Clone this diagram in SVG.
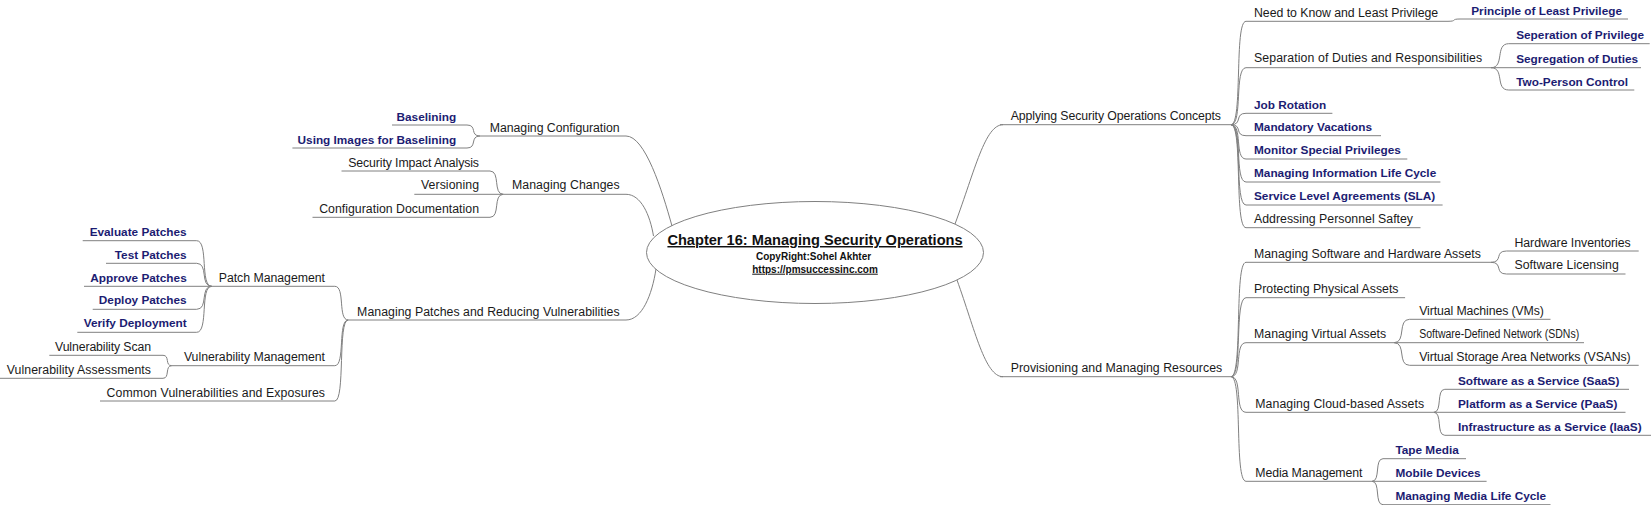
<svg xmlns="http://www.w3.org/2000/svg" width="1651" height="505" viewBox="0 0 1651 505">
<style>
.t{font-family:"Liberation Sans",Arial,sans-serif;font-size:12.3px;fill:#1a1a1a}
.b{font-family:"Liberation Sans",Arial,sans-serif;font-size:11.8px;font-weight:bold;fill:#1c1c72}
.e{text-anchor:end}
.u{stroke:#808080;stroke-width:1;fill:none}
.c{stroke:#808080;stroke-width:1;fill:none}
.ct{font-family:"Liberation Sans",Arial,sans-serif;font-weight:bold;fill:#111;text-anchor:middle}
</style>
<rect width="1651" height="505" fill="#ffffff"/>
<g id="connectors">
<path class="c" d="M626,136 C645,136 662,190 672,226"/>
<path class="c" d="M626,194.3 C641,194.3 650,215 653.5,236"/>
<path class="c" d="M626,320 C642,320 652,295 656,269"/>
<path class="c" d="M955,224 C975,170 985,124.7 1003,124.7"/>
<path class="c" d="M957,280 C975,330 985,376.7 1003,376.7"/>
<path class="c" d="M467,125 C477.4,125 469.6,136 480,136"/>
<path class="c" d="M467,148 C477.4,148 469.6,136 480,136"/>
<path class="c" d="M490,171 C500.6,171 492.7,194.3 503.3,194.3"/>
<path class="c" d="M490,217.3 C500.6,217.3 492.7,194.3 503.3,194.3"/>
<path class="c" d="M334.8,286.3 C345.5,286.3 337.5,320 348.2,320"/>
<path class="c" d="M334.8,365.7 C345.5,365.7 337.5,320 348.2,320"/>
<path class="c" d="M334.8,401 C345.5,401 337.5,320 348.2,320"/>
<path class="c" d="M196.7,240.7 C208.7,240.7 199.7,286.3 211.7,286.3"/>
<path class="c" d="M196.7,263.3 C208.7,263.3 199.7,286.3 211.7,286.3"/>
<path class="c" d="M196.7,309.3 C208.7,309.3 199.7,286.3 211.7,286.3"/>
<path class="c" d="M196.7,332.3 C208.7,332.3 199.7,286.3 211.7,286.3"/>
<path class="c" d="M163,355.3 C170,355.3 164.7,365.7 171.7,365.7"/>
<path class="c" d="M163,378.3 C170,378.3 164.7,365.7 171.7,365.7"/>
<path class="c" d="M1231,124.7 C1243,124.7 1234,21.3 1246,21.3"/>
<path class="c" d="M1231,124.7 C1243,124.7 1234,67.7 1246,67.7"/>
<path class="c" d="M1231,124.7 C1243,124.7 1234,113.3 1246,113.3"/>
<path class="c" d="M1231,124.7 C1243,124.7 1234,135.7 1246,135.7"/>
<path class="c" d="M1231,124.7 C1243,124.7 1234,159 1246,159"/>
<path class="c" d="M1231,124.7 C1243,124.7 1234,182 1246,182"/>
<path class="c" d="M1231,124.7 C1243,124.7 1234,205 1246,205"/>
<path class="c" d="M1231,124.7 C1243,124.7 1234,227.7 1246,227.7"/>
<path class="c" d="M1231,376.7 C1243,376.7 1234,262.3 1246,262.3"/>
<path class="c" d="M1231,376.7 C1243,376.7 1234,297.7 1246,297.7"/>
<path class="c" d="M1231,376.7 C1243,376.7 1234,342.7 1246,342.7"/>
<path class="c" d="M1231,376.7 C1243,376.7 1234,412.3 1246,412.3"/>
<path class="c" d="M1231,376.7 C1243,376.7 1234,481.3 1246,481.3"/>
<path class="c" d="M1448,21.3 C1457.6,21.3 1450.4,19 1460,19"/>
<path class="c" d="M1491,67.7 C1505,67.7 1494.7,43.7 1508.7,43.7"/>
<path class="c" d="M1491,67.7 C1505,67.7 1494.7,90 1508.7,90"/>
<path class="c" d="M1491,262.3 C1503.4,262.3 1494.1,251 1506.5,251"/>
<path class="c" d="M1491,262.3 C1503.4,262.3 1494.1,274 1506.5,274"/>
<path class="c" d="M1394.1,342.7 C1406.4,342.7 1397.2,319.3 1409.5,319.3"/>
<path class="c" d="M1394.1,342.7 C1406.4,342.7 1397.2,365.3 1409.5,365.3"/>
<path class="c" d="M1433.8,412.3 C1442.6,412.3 1436,389.3 1444.8,389.3"/>
<path class="c" d="M1433.8,412.3 C1442.6,412.3 1436,435.3 1444.8,435.3"/>
<path class="c" d="M1372,481.3 C1380.8,481.3 1374.2,458.7 1383,458.7"/>
<path class="c" d="M1372,481.3 C1380.8,481.3 1374.2,504.7 1383,504.7"/>
</g>
<g id="central">
<ellipse cx="815" cy="252.5" rx="168.5" ry="51" fill="#ffffff" stroke="#808080" stroke-width="1"/>
<text class="ct" x="815" y="245" font-size="14.6" text-decoration="underline">Chapter 16: Managing Security Operations</text>
<text class="ct" x="813.5" y="260" font-size="10">CopyRight:Sohel Akhter</text>
<text class="ct" x="815" y="272.7" font-size="10" text-decoration="underline">https://pmsuccessinc.com</text>
</g>
<g id="managing-configuration"><line class="u" x1="480" y1="136" x2="626" y2="136"/><text class="t e" x="619.6" y="131.7" textLength="129.9">Managing Configuration</text></g>
<g id="baselining"><line class="u" x1="392" y1="125" x2="467" y2="125"/><text class="b e" x="456.2" y="121">Baselining</text></g>
<g id="using-images"><line class="u" x1="292.4" y1="148" x2="467" y2="148"/><text class="b e" x="456.2" y="144.3">Using Images for Baselining</text></g>
<g id="managing-changes"><line class="u" x1="503.3" y1="194.3" x2="626" y2="194.3"/><text class="t e" x="619.6" y="189.3" textLength="107.6">Managing Changes</text></g>
<g id="security-impact"><line class="u" x1="341.5" y1="171" x2="490" y2="171"/><text class="t e" x="479" y="166.7" textLength="130.8">Security Impact Analysis</text></g>
<g id="versioning"><line class="u" x1="414.3" y1="194.3" x2="503.3" y2="194.3"/><text class="t e" x="479" y="189.3" textLength="58">Versioning</text></g>
<g id="config-doc"><line class="u" x1="312.5" y1="217.3" x2="490" y2="217.3"/><text class="t e" x="479" y="212.7" textLength="159.8">Configuration Documentation</text></g>
<g id="managing-patches"><line class="u" x1="348.2" y1="320" x2="626" y2="320"/><text class="t e" x="619.6" y="316" textLength="262.5">Managing Patches and Reducing Vulnerabilities</text></g>
<g id="patch-management"><line class="u" x1="211.7" y1="286.3" x2="334.8" y2="286.3"/><text class="t e" x="325" y="281.7" textLength="106.3">Patch Management</text></g>
<g id="evaluate-patches"><line class="u" x1="82.7" y1="240.7" x2="196.7" y2="240.7"/><text class="b e" x="186.7" y="236">Evaluate Patches</text></g>
<g id="test-patches"><line class="u" x1="106" y1="263.3" x2="196.7" y2="263.3"/><text class="b e" x="186.7" y="258.7">Test Patches</text></g>
<g id="approve-patches"><line class="u" x1="84" y1="286.3" x2="211.7" y2="286.3"/><text class="b e" x="186.7" y="281.7">Approve Patches</text></g>
<g id="deploy-patches"><line class="u" x1="92.7" y1="309.3" x2="196.7" y2="309.3"/><text class="b e" x="186.7" y="304.3">Deploy Patches</text></g>
<g id="verify-deployment"><line class="u" x1="77.3" y1="332.3" x2="196.7" y2="332.3"/><text class="b e" x="186.7" y="327.3">Verify Deployment</text></g>
<g id="vulnerability-management"><line class="u" x1="171.7" y1="365.7" x2="334.8" y2="365.7"/><text class="t e" x="325" y="361" textLength="141.1">Vulnerability Management</text></g>
<g id="vulnerability-scan"><line class="u" x1="49.3" y1="355.3" x2="163" y2="355.3"/><text class="t e" x="151" y="350.7" textLength="96">Vulnerability Scan</text></g>
<g id="vulnerability-assessments"><line class="u" x1="0" y1="378.3" x2="163" y2="378.3"/><text class="t e" x="151" y="374" textLength="144.3">Vulnerability Assessments</text></g>
<g id="common-vulnerabilities"><line class="u" x1="100" y1="401" x2="334.8" y2="401"/><text class="t e" x="325" y="396.7" textLength="218.5">Common Vulnerabilities and Exposures</text></g>
<g id="applying-concepts"><line class="u" x1="1000" y1="124.7" x2="1231" y2="124.7"/><text class="t" x="1010.7" y="120" textLength="210.2">Applying Security Operations Concepts</text></g>
<g id="need-to-know"><line class="u" x1="1246" y1="21.3" x2="1448" y2="21.3"/><text class="t" x="1254" y="16.7" textLength="184.2">Need to Know and Least Privilege</text></g>
<g id="least-privilege"><line class="u" x1="1460" y1="19" x2="1628" y2="19"/><text class="b" x="1471.2" y="15">Principle of Least Privilege</text></g>
<g id="separation-duties"><line class="u" x1="1246" y1="67.7" x2="1491" y2="67.7"/><text class="t" x="1254" y="62.3" textLength="228.2">Separation of Duties and Responsibilities</text></g>
<g id="seperation-privilege"><line class="u" x1="1508.7" y1="43.7" x2="1649.7" y2="43.7"/><text class="b" x="1516.2" y="39.3">Seperation of Privilege</text></g>
<g id="segregation-duties"><line class="u" x1="1491" y1="67.7" x2="1641" y2="67.7"/><text class="b" x="1516.2" y="62.7">Segregation of Duties</text></g>
<g id="two-person"><line class="u" x1="1508.7" y1="90" x2="1634.3" y2="90"/><text class="b" x="1516.2" y="85.7">Two-Person Control</text></g>
<g id="job-rotation"><line class="u" x1="1246" y1="113.3" x2="1332.4" y2="113.3"/><text class="b" x="1254" y="109">Job Rotation</text></g>
<g id="mandatory-vacations"><line class="u" x1="1246" y1="135.7" x2="1381" y2="135.7"/><text class="b" x="1254" y="131">Mandatory Vacations</text></g>
<g id="monitor-privileges"><line class="u" x1="1246" y1="159" x2="1407.3" y2="159"/><text class="b" x="1254" y="154">Monitor Special Privileges</text></g>
<g id="info-life-cycle"><line class="u" x1="1246" y1="182" x2="1440.4" y2="182"/><text class="b" x="1254" y="176.7">Managing Information Life Cycle</text></g>
<g id="sla"><line class="u" x1="1246" y1="205" x2="1442.6" y2="205"/><text class="b" x="1254" y="200">Service Level Agreements (SLA)</text></g>
<g id="personnel-safety"><line class="u" x1="1246" y1="227.7" x2="1420.5" y2="227.7"/><text class="t" x="1254" y="222.7" textLength="159">Addressing Personnel Saftey</text></g>
<g id="provisioning"><line class="u" x1="1000" y1="376.7" x2="1231" y2="376.7"/><text class="t" x="1010.7" y="372.3" textLength="211.5">Provisioning and Managing Resources</text></g>
<g id="sw-hw-assets"><line class="u" x1="1246" y1="262.3" x2="1491" y2="262.3"/><text class="t" x="1254" y="258.3" textLength="226.9">Managing Software and Hardware Assets</text></g>
<g id="hardware-inventories"><line class="u" x1="1506.5" y1="251" x2="1638.7" y2="251"/><text class="t" x="1514.4" y="246.7" textLength="116.3">Hardware Inventories</text></g>
<g id="software-licensing"><line class="u" x1="1506.5" y1="274" x2="1625.5" y2="274"/><text class="t" x="1514.4" y="269.3" textLength="104.4">Software Licensing</text></g>
<g id="physical-assets"><line class="u" x1="1246" y1="297.7" x2="1405.1" y2="297.7"/><text class="t" x="1254" y="292.7" textLength="144.5">Protecting Physical Assets</text></g>
<g id="virtual-assets"><line class="u" x1="1246" y1="342.7" x2="1394.1" y2="342.7"/><text class="t" x="1254" y="337.7" textLength="132.2">Managing Virtual Assets</text></g>
<g id="vms"><line class="u" x1="1409.5" y1="319.3" x2="1550.5" y2="319.3"/><text class="t" x="1419.2" y="315" textLength="124.7">Virtual Machines (VMs)</text></g>
<g id="sdns"><line class="u" x1="1394.1" y1="342.7" x2="1584" y2="342.7"/><text class="t" x="1419.2" y="337.7" textLength="160" lengthAdjust="spacingAndGlyphs">Software-Defined Network (SDNs)</text></g>
<g id="vsans"><line class="u" x1="1409.5" y1="365.3" x2="1638.7" y2="365.3"/><text class="t" x="1419.2" y="360.7" textLength="211.5">Virtual Storage Area Networks (VSANs)</text></g>
<g id="cloud-assets"><line class="u" x1="1246" y1="412.3" x2="1433.8" y2="412.3"/><text class="t" x="1255.3" y="407.7" textLength="168.8">Managing Cloud-based Assets</text></g>
<g id="saas"><line class="u" x1="1444.8" y1="389.3" x2="1629" y2="389.3"/><text class="b" x="1458" y="385">Software as a Service (SaaS)</text></g>
<g id="paas"><line class="u" x1="1433.8" y1="412.3" x2="1625.5" y2="412.3"/><text class="b" x="1458" y="407.7">Platform as a Service (PaaS)</text></g>
<g id="iaas"><line class="u" x1="1444.8" y1="435.3" x2="1651" y2="435.3"/><text class="b" x="1458" y="430.7">Infrastructure as a Service (IaaS)</text></g>
<g id="media-management"><line class="u" x1="1246" y1="481.3" x2="1372" y2="481.3"/><text class="t" x="1255.3" y="476.7" textLength="107.1">Media Management</text></g>
<g id="tape-media"><line class="u" x1="1383" y1="458.7" x2="1466" y2="458.7"/><text class="b" x="1395.4" y="454">Tape Media</text></g>
<g id="mobile-devices"><line class="u" x1="1372" y1="481.3" x2="1486.6" y2="481.3"/><text class="b" x="1395.4" y="476.7">Mobile Devices</text></g>
<g id="media-life-cycle"><line class="u" x1="1383" y1="504.7" x2="1550.5" y2="504.7"/><text class="b" x="1395.4" y="500">Managing Media Life Cycle</text></g>
</svg>
